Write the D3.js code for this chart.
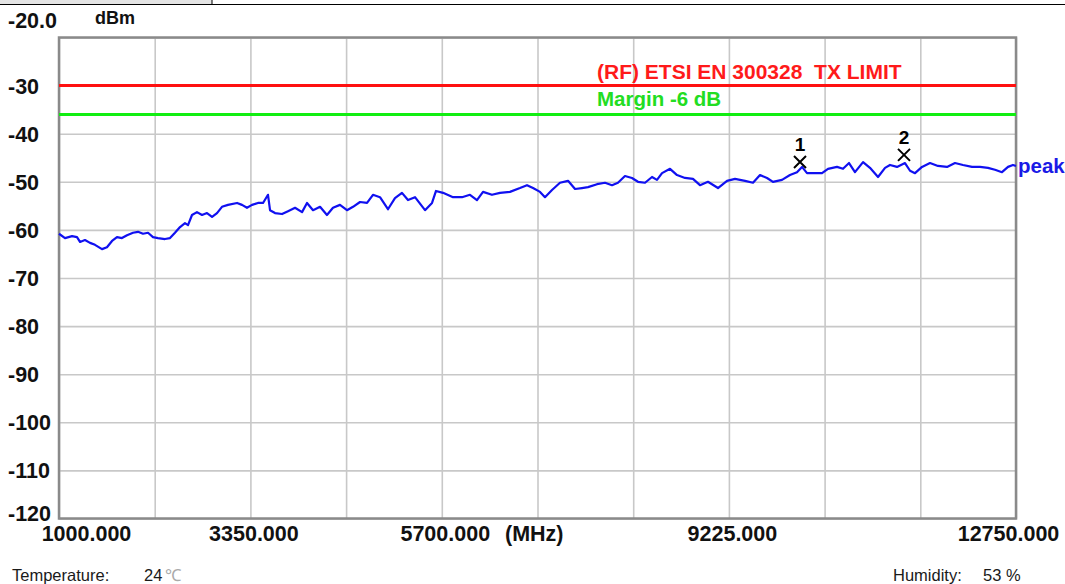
<!DOCTYPE html>
<html><head><meta charset="utf-8">
<script src="https://cdn.jsdelivr.net/npm/d3@7"></script>
<style>
body{margin:0;background:#fff}
svg{display:block}
text{font-family:"Liberation Sans",Arial,sans-serif;white-space:pre}
</style></head><body>
<svg id="c" width="1065" height="584"></svg>
<script>
// ---- data ----
const traceFreq = [1000,1074,1160,1221,1258,1319,1381,1442,1528,1589,1651,1712,1773,1835,1909,1970,2031,2093,2154,2215,2301,2363,2424,2486,2547,2584,2633,2694,2756,2817,2879,2940,3001,3075,3186,3247,3308,3370,3443,3505,3566,3591,3652,3738,3812,3898,3984,
4045,4119,4205,4290,4364,4450,4536,4610,4696,4782,4855,4941,5039,5125,5211,5285,5371,5494,5580,5629,5715,5838,5948,6046,6132,6206,6316,6415,6537,6660,6746,6820,6906,
6967,7053,7151,7250,7336,7421,7495,7606,7704,7790,7863,7949,8035,8109,8195,8281,8342,8404,8502,8588,8686,8784,8870,8968,9091,9202,9300,9423,9521,9607,9693,9766,9877,9975,
10061,10123,10184,10258,10368,10442,10552,10626,10700,10773,10872,10957,11056,11142,11203,11289,11387,11449,11510,11596,11694,11792,11903,12001,12099,12210,12308,12406,12492,12578,12652,12713,12750];
const traceLevel = [-60.8,-61.7,-61.3,-61.5,-62.5,-62.1,-62.7,-63.1,-64.0,-63.6,-62.3,-61.5,-61.7,-61.1,-60.6,-60.4,-60.8,-60.6,-61.5,-61.7,-61.9,-61.7,-60.6,-59.4,-58.6,-59.0,-56.9,-56.3,-56.9,-56.5,-57.3,-56.5,-55.2,-54.8,-54.4,-54.8,-55.4,-54.8,-54.4,-54.4,-52.7,-55.9,-56.5,-56.7,-56.1,-55.4,-56.3,
-54.4,-55.9,-55.2,-56.9,-55.4,-54.8,-55.9,-55.2,-54.2,-54.4,-52.7,-53.2,-55.7,-53.4,-52.3,-53.8,-53.2,-55.9,-54.4,-51.9,-52.3,-53.2,-53.2,-52.7,-53.8,-52.1,-52.7,-52.3,-52.1,-51.3,-50.7,-51.3,-52.1,
-53.2,-51.7,-50.2,-49.8,-51.5,-51.3,-51.1,-50.5,-50.2,-50.7,-50.2,-48.8,-49.2,-50.0,-50.2,-49.0,-49.6,-48.2,-47.3,-48.6,-49.2,-49.4,-50.7,-50.0,-51.3,-49.8,-49.4,-49.8,-50.2,-48.6,-49.2,-50.0,-49.6,-48.6,
-48.0,-46.9,-48.2,-48.2,-48.2,-47.3,-46.9,-47.3,-46.1,-48.0,-45.9,-47.1,-49.0,-47.1,-46.5,-46.9,-46.1,-47.7,-48.2,-46.9,-46.1,-46.7,-46.9,-46.1,-46.5,-46.9,-46.9,-47.1,-47.5,-48.0,-46.9,-46.5,-46.7];
const markerFreq = [10098, 11375];
const markerLevel = [-45.9, -44.4];
const markerNames = ["1", "2"];
const limitLevel = -30;
const marginLevel = -36;
const limitLabel = "(RF) ETSI EN 300328  TX LIMIT";
const marginLabel = "Margin -6 dB";
const xGrid = [1000,2175,3350,4525,5700,6875,8050,9225,10400,11575,12750];
const xLabels = [1000,3350,5700,9225,12750];
const yTicks = [-20,-30,-40,-50,-60,-70,-80,-90,-100,-110,-120];
const yTickLabels = ["-20.0","-30","-40","-50","-60","-70","-80","-90","-100","-110","-120"];

const svg = d3.select("#c");
const L=59, R=1016, T=37.5, B=518.5;
const x = d3.scaleLinear().domain([1000,12750]).range([L,R]);
const y = d3.scaleLinear().domain([-120,-20]).range([B,T]);
const FONT = "'Liberation Sans',Arial,sans-serif";

// header strip
svg.append("rect").attr("x",0).attr("y",0).attr("width",212).attr("height",4).attr("fill","#e4e4e4");
svg.append("line").attr("x1",212).attr("x2",212).attr("y1",0).attr("y2",4).attr("stroke","#000");
svg.append("line").attr("x1",0).attr("x2",1065).attr("y1",4.5).attr("y2",4.5).attr("stroke","#000");

// grid
const gx = svg.append("g").attr("transform",`translate(0,${B})`)
  .call(d3.axisBottom(x).tickValues(xGrid).tickSize(-(B-T)).tickFormat(""));
gx.select(".domain").remove();
gx.selectAll("line").attr("stroke","#c8c8c8").attr("stroke-width",1.6);
const gy = svg.append("g").attr("transform",`translate(${L},0)`)
  .call(d3.axisLeft(y).tickValues(yTicks).tickSize(-(R-L)).tickFormat(""));
gy.select(".domain").remove();
gy.selectAll("line").attr("stroke","#c8c8c8").attr("stroke-width",1.6);

// frame
svg.append("rect").attr("x",L).attr("y",T).attr("width",R-L).attr("height",B-T)
  .attr("fill","none").attr("stroke","#8a8a8a").attr("stroke-width",2.5);

// limit lines
svg.append("line").attr("x1",L).attr("x2",R).attr("y1",y(limitLevel)).attr("y2",y(limitLevel)).attr("stroke","#ff1010").attr("stroke-width",3);
svg.append("line").attr("x1",L).attr("x2",R).attr("y1",y(marginLevel)).attr("y2",y(marginLevel)).attr("stroke","#11ee11").attr("stroke-width",3);
svg.append("text").attr("x",597).attr("y",y(limitLevel)-7).attr("fill","#ff1a1a").attr("font-weight","bold").attr("font-size",21).text(limitLabel);
svg.append("text").attr("x",597).attr("y",y(marginLevel)-8).attr("fill","#22dd22").attr("font-weight","bold").attr("font-size",20.5).text(marginLabel);

// trace
const pts = traceFreq.map((f,i)=>[f,traceLevel[i]]);
svg.append("path").datum(pts).attr("fill","none").attr("stroke","#1010f0").attr("stroke-width",2.2)
  .attr("stroke-linejoin","round")
  .attr("d",d3.line().x(d=>x(d[0])).y(d=>y(d[1])));
svg.append("text").attr("x",R+2).attr("y",y(traceLevel[traceLevel.length-1])+7).attr("fill","#1a1ae6")
  .attr("font-weight","bold").attr("font-size",20.5).text("peak");

// markers
markerFreq.forEach((f,i)=>{
  const cx=x(f), cy=y(markerLevel[i]);
  const g=svg.append("g");
  g.append("path").attr("d",`M${cx-6},${cy-6}L${cx+6},${cy+6}M${cx+6},${cy-6}L${cx-6},${cy+6}`).attr("stroke","#000").attr("stroke-width",2);
  g.append("text").attr("x",cx).attr("y",cy-11).attr("text-anchor","middle").attr("font-weight","bold").attr("font-size",19).text(markerNames[i]);
});

// y labels
const ya = svg.append("g").attr("transform",`translate(${L},0)`)
  .call(d3.axisLeft(y).tickValues(yTicks).tickSize(0).tickFormat((d,i)=>yTickLabels[i]));
ya.select(".domain").remove();
ya.selectAll("text").attr("text-anchor","start").attr("x",8-L).attr("font-size",21.5).attr("font-weight","bold")
  .attr("fill","#111").attr("font-family",FONT)
  .attr("dy",d=>d===-20?"-0.45em":d===-120?"0.1em":"0.35em");
svg.append("text").attr("x",95).attr("y",24).attr("font-size",18).attr("font-weight","bold").attr("fill","#111").text("dBm");

// x labels
const xa = svg.append("g").attr("transform",`translate(0,${B})`)
  .call(d3.axisBottom(x).tickValues(xLabels).tickSize(0).tickFormat(d=>d.toFixed(3)));
xa.select(".domain").remove();
xa.selectAll("text").attr("font-size",21.5).attr("font-weight","bold").attr("fill","#111")
  .attr("font-family",FONT).attr("y",7).attr("dy","0.71em")
  .attr("dx",d=>d===1000?27:d===12750?-8:3);
svg.append("text").attr("x",505).attr("y",541).attr("font-size",21.5).attr("font-weight","bold").attr("fill","#111").text("(MHz)");

// footer
const foot = (tx,xx,col)=>svg.append("text").attr("x",xx).attr("y",581).attr("font-size",16.5).attr("fill",col).text(tx);
foot("Temperature:",12,"#1a1a1a");
foot("24",144,"#1a1a1a");
foot("℃",165,"#aaa");
foot("Humidity:",893,"#1a1a1a");
foot("53 %",983,"#1a1a1a");
</script></body></html>
